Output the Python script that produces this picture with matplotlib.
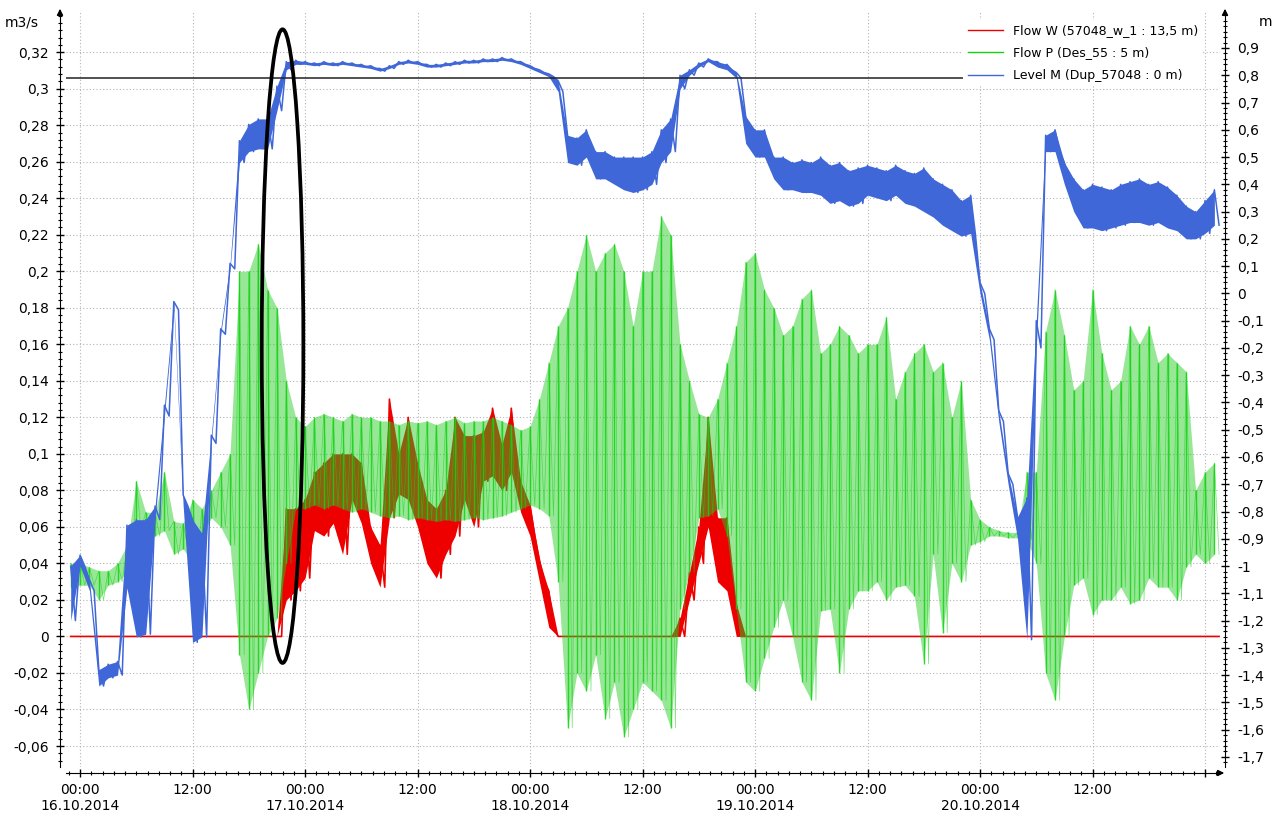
import numpy as np
import matplotlib
matplotlib.use('Agg')
import matplotlib.pyplot as plt
from matplotlib.patches import Ellipse
from matplotlib.lines import Line2D
from matplotlib.ticker import FixedLocator, MultipleLocator, FuncFormatter

# hourly samples, hours since 16.10.2014 00:00
hours = np.arange(-1, 122)

# Level M (m), lower / upper edge of the noisy trace per hour
level_lo = [-1.2, -1.0, -1.09, -1.44, -1.41, -1.40, -1.08, -1.26, -1.25, -0.83, -0.45, -0.06,
            -0.78, -1.28, -1.26, -0.55, -0.15, 0.09, 0.48, 0.52, 0.53, 0.53, 0.67, 0.82,
            0.84, 0.84, 0.835, 0.84, 0.835, 0.84, 0.835, 0.83, 0.825, 0.815, 0.825, 0.84,
            0.845, 0.84, 0.83, 0.83, 0.835, 0.84, 0.845, 0.845, 0.85, 0.85, 0.855, 0.85,
            0.84, 0.825, 0.81, 0.795, 0.74, 0.48, 0.47, 0.5, 0.42, 0.42, 0.4, 0.38,
            0.37, 0.38, 0.4, 0.48, 0.52, 0.75, 0.8, 0.83, 0.85, 0.83, 0.82, 0.79,
            0.55, 0.5, 0.5, 0.42, 0.38, 0.38, 0.37, 0.37, 0.36, 0.33, 0.34, 0.32,
            0.33, 0.36, 0.35, 0.34, 0.36, 0.33, 0.32, 0.3, 0.28, 0.25, 0.23, 0.21,
            0.22, 0.0, -0.17, -0.47, -0.7, -0.9, -1.27, -0.2, 0.52, 0.52, 0.4, 0.3,
            0.24, 0.24, 0.23, 0.24, 0.25, 0.26, 0.26, 0.25, 0.26, 0.24, 0.23, 0.2,
            0.2, 0.22, 0.25]
level_hi = [-1.0, -0.96, -1.05, -1.38, -1.36, -1.35, -0.85, -0.83, -0.83, -0.78, -0.41, -0.03,
            -0.74, -0.83, -0.88, -0.52, -0.13, 0.11, 0.56, 0.62, 0.64, 0.64, 0.76, 0.85,
            0.855, 0.85, 0.845, 0.85, 0.845, 0.85, 0.845, 0.84, 0.835, 0.825, 0.835, 0.85,
            0.855, 0.85, 0.84, 0.84, 0.845, 0.85, 0.855, 0.855, 0.86, 0.86, 0.865, 0.86,
            0.85, 0.835, 0.82, 0.805, 0.78, 0.58, 0.57, 0.6, 0.52, 0.52, 0.5, 0.5,
            0.5, 0.5, 0.52, 0.6, 0.64, 0.8, 0.82, 0.845, 0.86, 0.85, 0.84, 0.81,
            0.65, 0.6, 0.6, 0.5, 0.5, 0.48, 0.49, 0.48, 0.5, 0.47, 0.48, 0.45,
            0.46, 0.47, 0.46, 0.45, 0.47, 0.45, 0.44, 0.46, 0.42, 0.4, 0.38, 0.34,
            0.36, 0.04, -0.13, -0.43, -0.66, -0.82, -0.75, -0.1, 0.58, 0.6, 0.48, 0.42,
            0.38, 0.4, 0.39, 0.38, 0.4, 0.41, 0.42, 0.4, 0.41, 0.39, 0.36, 0.32,
            0.3, 0.34, 0.38]

# Flow P (m3/s)
flowp_lo = [0.027, 0.028, 0.028, 0.02, 0.028, 0.03, 0.035, 0.058, 0.055, 0.055, 0.058, 0.045,
            0.048, 0.04, 0.055, 0.065, 0.06, 0.05, -0.01, -0.04, -0.02, 0.0, 0.01, 0.04,
            0.07, 0.07, 0.072, 0.07, 0.072, 0.07, 0.068, 0.07, 0.068, 0.066, 0.065, 0.066,
            0.064, 0.065, 0.064, 0.063, 0.064, 0.063, 0.064, 0.065, 0.064, 0.065, 0.066, 0.068,
            0.07, 0.072, 0.07, 0.066, 0.03, -0.05, -0.02, -0.03, -0.01, -0.045, -0.025, -0.055,
            -0.04, -0.025, -0.03, -0.035, -0.05, 0.015, 0.035, 0.065, 0.066, 0.07, 0.055, 0.015,
            -0.025, -0.03, -0.012, 0.005, 0.02, 0.0, -0.025, -0.035, 0.014, 0.015, -0.02, 0.015,
            0.025, 0.025, 0.03, 0.02, 0.027, 0.028, 0.022, -0.015, 0.045, 0.002, 0.04, 0.03,
            0.05, 0.052, 0.055, 0.055, 0.054, 0.054, 0.053, 0.04, -0.02, -0.035, 0.0, 0.028,
            0.032, 0.012, 0.02, 0.02, 0.027, 0.018, 0.02, 0.032, 0.027, 0.027, 0.02, 0.038,
            0.045, 0.04, 0.045]
flowp_hi = [0.04, 0.04, 0.038, 0.036, 0.036, 0.04, 0.05, 0.085, 0.068, 0.068, 0.09, 0.063,
            0.062, 0.075, 0.07, 0.08, 0.09, 0.1, 0.2, 0.2, 0.215, 0.19, 0.18, 0.14,
            0.12, 0.115, 0.12, 0.122, 0.12, 0.118, 0.122, 0.12, 0.12, 0.118, 0.118, 0.116,
            0.118, 0.117, 0.118, 0.116, 0.118, 0.12, 0.117, 0.118, 0.118, 0.12, 0.118, 0.116,
            0.113, 0.115, 0.13, 0.15, 0.17, 0.18, 0.2, 0.22, 0.2, 0.21, 0.215, 0.2,
            0.17, 0.2, 0.2, 0.23, 0.22, 0.16, 0.14, 0.122, 0.12, 0.13, 0.15, 0.17,
            0.205, 0.21, 0.19, 0.18, 0.165, 0.17, 0.185, 0.19, 0.155, 0.16, 0.17, 0.165,
            0.155, 0.16, 0.16, 0.175, 0.13, 0.145, 0.155, 0.16, 0.145, 0.15, 0.12, 0.14,
            0.075, 0.064, 0.06, 0.058, 0.057, 0.057, 0.09, 0.09, 0.167, 0.19, 0.165, 0.135,
            0.14, 0.19, 0.155, 0.135, 0.14, 0.17, 0.16, 0.17, 0.15, 0.155, 0.15, 0.145,
            0.08, 0.09, 0.095]

# Flow W (m3/s), zero outside the two flow periods
floww_lo = ([0.0] * 23 +
            [0.02, 0.025, 0.032, 0.058, 0.055, 0.062, 0.045, 0.075, 0.062, 0.04, 0.027, 0.065,
             0.078, 0.075, 0.06, 0.04, 0.032, 0.045, 0.055, 0.075, 0.06, 0.085, 0.088, 0.08,
             0.09, 0.068, 0.055, 0.03, 0.005] +
            [0.0] * 13 +
            [0.0, 0.02, 0.04, 0.06, 0.03, 0.025, 0.0] +
            [0.0] * 51)
floww_hi = ([0.0] * 23 +
            [0.07, 0.07, 0.075, 0.09, 0.095, 0.1, 0.1, 0.1, 0.095, 0.06, 0.05, 0.13,
             0.1, 0.12, 0.095, 0.075, 0.07, 0.08, 0.12, 0.11, 0.11, 0.112, 0.125, 0.105,
             0.125, 0.085, 0.072, 0.042, 0.025] +
            [0.0] * 13 +
            [0.01, 0.035, 0.06, 0.12, 0.065, 0.065, 0.018] +
            [0.0] * 51)

level_mark = 0.79
labels = ['Flow W (57048_w_1 : 13,5 m)', 'Flow P (Des_55 : 5 m)', 'Level M (Dup_57048 : 0 m)']
xticks = [0, 12, 24, 36, 48, 60, 72, 84, 96, 108, 120]
xlabels = ['00:00\n16.10.2014', '12:00', '00:00\n17.10.2014', '12:00', '00:00\n18.10.2014',
           '12:00', '00:00\n19.10.2014', '12:00', '00:00\n20.10.2014', '12:00', '']

RED = '#ee0000'
GREEN = '#14d214'
BLUE = '#3f67d8'


def zigzag(t, hi, lo):
    # upper value on the hour, lower value half an hour later
    tt = np.column_stack([t, t + 0.5]).ravel()
    vv = np.column_stack([hi, lo]).ravel()
    return tt, vv


def comma(v, pos):
    s = f'{v:.2f}'.rstrip('0').rstrip('.')
    if s == '-0':
        s = '0'
    return s.replace('.', ',')


plt.rcParams['font.family'] = 'DejaVu Sans'
fig = plt.figure(figsize=(12.83, 8.24), dpi=100)
ax = fig.add_axes([66 / 1283, 1 - 767 / 824, 1154 / 1283, 755 / 824])
ax2 = ax.twinx()

# flow W under flow P so the overlap turns olive
ax.fill_between(hours, floww_lo, floww_hi, color=RED, lw=0, zorder=2)
t, v = zigzag(hours, floww_hi, floww_lo)
ax.plot(t, v, color=RED, lw=1.2, zorder=2)

ax.fill_between(hours, flowp_lo, flowp_hi, color='#22cc22', alpha=0.47, lw=0, zorder=3)
ax.vlines(hours, flowp_lo, flowp_hi, color=GREEN, lw=1.0, alpha=0.85, zorder=3)
t, v = zigzag(hours, flowp_hi, flowp_lo)
ax.plot(t, v, color=GREEN, lw=0.5, alpha=0.6, zorder=3)

ax2.fill_between(hours, level_lo, level_hi, color=BLUE, lw=0, zorder=2)
t, v = zigzag(hours, level_hi, level_lo)
ax2.plot(t, v, color=BLUE, lw=1.1, zorder=2)

ax2.axhline(level_mark, xmax=0.79, color='#222222', lw=1.1, zorder=3)
ax2.add_patch(Ellipse((21.6, 0.159), 4.44, 0.347, transform=ax.transData,
                      fill=False, ec='black', lw=2.7, zorder=6))

ax.set_xlim(-1.5, 121.6)
ax.set_ylim(-0.0715, 0.342)
ax2.set_ylim(-1.737, 1.032)

ax.yaxis.set_major_locator(FixedLocator(np.round(np.arange(-0.06, 0.3201, 0.02), 3)))
ax.yaxis.set_minor_locator(MultipleLocator(0.004))
ax.yaxis.set_major_formatter(FuncFormatter(comma))
ax2.yaxis.set_major_locator(FixedLocator(np.round(np.arange(-1.7, 0.901, 0.1), 2)))
ax2.yaxis.set_minor_locator(MultipleLocator(0.02))
ax2.yaxis.set_major_formatter(FuncFormatter(comma))
ax.set_xticks(xticks)
ax.set_xticklabels(xlabels, linespacing=1.7)
ax.xaxis.set_minor_locator(MultipleLocator(1.2))

ax.grid(True, which='major', color='#b4b4b4', ls=(0, (1, 2)), lw=0.8)

for a in (ax, ax2):
    a.spines['top'].set_visible(False)
ax.spines['right'].set_visible(False)
ax2.spines['left'].set_visible(False)
ax2.spines['bottom'].set_visible(False)
ax.spines['left'].set_position(('outward', 4.3))
ax.spines['bottom'].set_position(('outward', 4.3))
ax2.spines['right'].set_position(('outward', 3.6))

ax.tick_params(which='major', direction='inout', length=6, width=1, labelsize=10, pad=4)
ax.tick_params(which='minor', direction='inout', length=3.5, width=0.8)
ax.tick_params(axis='y', which='major', pad=5)
ax2.tick_params(which='major', direction='inout', length=6, width=1, labelsize=10, pad=6)
ax2.tick_params(which='minor', direction='inout', length=3.5, width=0.8)

# arrow heads on the axes
arrow = dict(arrowstyle='-|>', color='black', lw=1, mutation_scale=9)
ax.annotate('', xy=(60, 824 - 6), xytext=(60, 824 - 16), xycoords='figure pixels', arrowprops=arrow)
ax.annotate('', xy=(1225, 824 - 6), xytext=(1225, 824 - 16), xycoords='figure pixels', arrowprops=arrow)
ax.annotate('', xy=(1227, 824 - 773), xytext=(1215, 824 - 773), xycoords='figure pixels', arrowprops=arrow)

fig.text(5 / 1283, 1 - 22 / 824, 'm3/s', fontsize=10, va='center', ha='left')
fig.text(1266 / 1283, 1 - 22 / 824, 'm', fontsize=10, va='center', ha='center')

handles = [Line2D([], [], color=RED, lw=1),
           Line2D([], [], color=GREEN, lw=1),
           Line2D([], [], color=BLUE, lw=1)]
leg = ax2.legend(handles, labels, loc='upper right', bbox_to_anchor=(0.99, 0.998),
                 fontsize=9, frameon=True, facecolor='white', edgecolor='none', framealpha=1,
                 handlelength=2.8, labelspacing=0.75, borderpad=0.35, fancybox=False)
leg.set_zorder(10)

fig.savefig('out.png', dpi=100)
